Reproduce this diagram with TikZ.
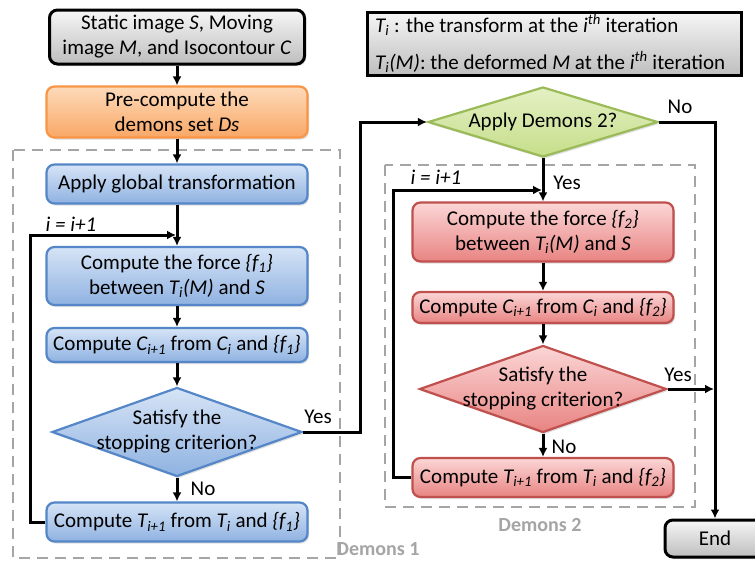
\documentclass[tikz,border=0pt]{standalone}
\usepackage{fontspec}
\setmainfont{Carlito}
\usetikzlibrary{arrows.meta,shapes.geometric,shadows}
\definecolor{bluebd}{RGB}{84,134,200}
\definecolor{bluetop}{RGB}{214,228,246}
\definecolor{bluebot}{RGB}{143,178,225}
\definecolor{redbd}{RGB}{192,80,77}
\definecolor{redtop}{RGB}{251,214,214}
\definecolor{redbot}{RGB}{232,132,130}
\definecolor{orbd}{RGB}{247,150,70}
\definecolor{ortop}{RGB}{253,218,186}
\definecolor{orbot}{RGB}{249,168,102}
\definecolor{grbd}{RGB}{155,187,89}
\definecolor{grtop}{RGB}{228,240,196}
\definecolor{grbot}{RGB}{198,222,138}
\definecolor{gytop}{RGB}{246,246,246}
\definecolor{gybot}{RGB}{190,190,190}
\definecolor{dashgray}{RGB}{165,165,165}
\newcommand{\sub}[1]{\textsubscript{#1}}
\tikzset{
  x=1pt, y=-1pt,
  every node/.style={font=\fontsize{21}{25}\selectfont},
  shad/.style={drop shadow={opacity=0.25, shadow xshift=1.5pt, shadow yshift=-2pt}},
  boxbase/.style={rectangle, rounded corners=8pt, line width=2.2pt, align=center, inner sep=2pt, shad},
  bluebox/.style={boxbase, draw=bluebd, top color=bluetop, bottom color=bluebot},
  redbox/.style={boxbase, draw=redbd, top color=redtop, bottom color=redbot},
  orbox/.style={boxbase, draw=orbd, top color=ortop, bottom color=orbot},
  graybox/.style={boxbase, line width=3pt, draw=black, top color=gytop, bottom color=gybot},
  diabase/.style={diamond, inner sep=0pt, line width=2.2pt, shad},
  bluedia/.style={diabase, draw=bluebd, top color=bluetop, bottom color=bluebot},
  reddia/.style={diabase, draw=redbd, top color=redtop, bottom color=redbot},
  grdia/.style={diabase, draw=grbd, top color=grtop, bottom color=grbot},
  arr/.style={line width=3pt, -{Latex[length=9pt,width=9pt]}},
  dbox/.style={draw=dashgray, line width=2.8pt, dash pattern=on 11pt off 7pt},
  dlabel/.style={text=dashgray, font=\fontsize{20}{24}\selectfont\bfseries},
  lbl/.style={inner sep=0pt},
}
\begin{document}
\begin{tikzpicture}
\clip (0,0) rectangle (755,562);
\fill[white] (0,0) rectangle (755,562);
% dashed group boxes
\draw[dbox] (13,150) rectangle (340,558);
\draw[dbox] (385,165) rectangle (695,507);
\node[dlabel] (dl1) at (378,549) {Demons 1};
\node[dlabel] (dl2) at (540,525) {Demons 2};
% left column
\node[graybox, minimum width=255, minimum height=54] (start) at (177,37) {Static image \textit{S}, Moving\\image \textit{M}, and Isocontour \textit{C}};
\node[orbox, minimum width=261, minimum height=51] (pre) at (177,112) {Pre-compute the\\demons set \textit{Ds}};
\node[bluebox, minimum width=261, minimum height=39] (glob) at (177,184) {Apply global transformation};
\node[bluebox, minimum width=261, minimum height=58] (f1) at (177,276) {Compute the force \textit{\{f\sub{1}\}}\\between \textit{T\sub{i}(M)} and \textit{S}};
\node[bluebox, minimum width=261, minimum height=34] (c1) at (177,345) {Compute \textit{C\sub{i+1}} from \textit{C\sub{i}} and \textit{\{f\sub{1}\}}};
\node[bluedia, minimum width=250, minimum height=89] (d1) at (177,432) {};
\node[align=center, inner sep=0pt] (d1t) at (d1.center) {Satisfy the\\stopping criterion?};
\node[bluebox, minimum width=261, minimum height=39] (t1) at (177,522) {Compute \textit{T\sub{i+1}} from \textit{T\sub{i}} and \textit{\{f\sub{1}\}}};
% legend
\node[rectangle, draw=black, line width=3pt, top color=gytop, bottom color=gybot, shad, minimum width=374, minimum height=63] (leg) at (554,43.5) {};
\node[anchor=west, inner sep=0pt] (leg1) at (375,25) {\textit{T\sub{i}} : the transform at the \textit{i\textsuperscript{th}} iteration};
\node[anchor=west, inner sep=0pt] (leg2) at (375,62) {\textit{T\sub{i}(M)}: the deformed \textit{M} at the \textit{i\textsuperscript{th}} iteration};
% right column
\node[grdia, minimum width=230, minimum height=70] (d2) at (543,122) {};
\node[inner sep=0pt] (d2t) at (d2.center) {Apply Demons 2?};
\node[redbox, minimum width=261, minimum height=59] (f2) at (543,232) {Compute the force \textit{\{f\sub{2}\}}\\between \textit{T\sub{i}(M)} and \textit{S}};
\node[redbox, minimum width=261, minimum height=31] (c2) at (543,307.5) {Compute \textit{C\sub{i+1}} from \textit{C\sub{i}} and \textit{\{f\sub{2}\}}};
\node[reddia, minimum width=247, minimum height=87] (d3) at (543,389) {};
\node[align=center, inner sep=0pt] (d3t) at (d3.center) {Satisfy the\\stopping criterion?};
\node[redbox, minimum width=261, minimum height=39] (t2) at (543,477.5) {Compute \textit{T\sub{i+1}} from \textit{T\sub{i}} and \textit{\{f\sub{2}\}}};
\node[graybox, minimum width=100, minimum height=37] (end) at (715,538.5) {End};
% connectors left
\draw[arr] (start.south) -- (pre.north);
\draw[arr] (pre.south) -- (glob.north);
\draw[arr] (glob.south) -- (f1.north);
\draw[arr] (f1.south) -- (c1.north);
\draw[arr] (c1.south) -- (d1.north);
\draw[arr] (d1.south) -- (t1.north);
\coordinate (loop1) at (30,235);
\draw[arr] (t1.west) -| (loop1) -- ([xshift=-1pt]loop1 -| f1.north);
\coordinate (yes1) at (360,432);
\draw[arr] (d1.east) -- (yes1) |- (d2.west);
% connectors right
\draw[arr] (d2.east) -| (end.north);
\draw[arr] (d2.south) -- (f2.north);
\draw[arr] (f2.south) -- (c2.north);
\draw[arr] (c2.south) -- (d3.north);
\draw[arr] (d3.south) -- (t2.north);
\coordinate (loop2) at (393,190);
\draw[arr] (t2.west) -| (loop2) -- ([xshift=-1pt]loop2 -| f2.north);
\draw[arr] (d3.east) -- ([xshift=-1pt]d3.east -| end.north);
% labels
\node[lbl] (lyes1) at (318,417) {Yes};
\node[lbl] (lno1) at (203,489) {No};
\node[lbl] (li1) at (71,224) {\textit{i = i+1}};
\node[lbl] (lno2) at (680,107) {No};
\node[lbl] (lyes2) at (567,183) {Yes};
\node[lbl] (li2) at (436,177) {\textit{i = i+1}};
\node[lbl] (lyes3) at (678,375) {Yes};
\node[lbl] (lno3) at (564,447) {No};
\end{tikzpicture}
\end{document}
